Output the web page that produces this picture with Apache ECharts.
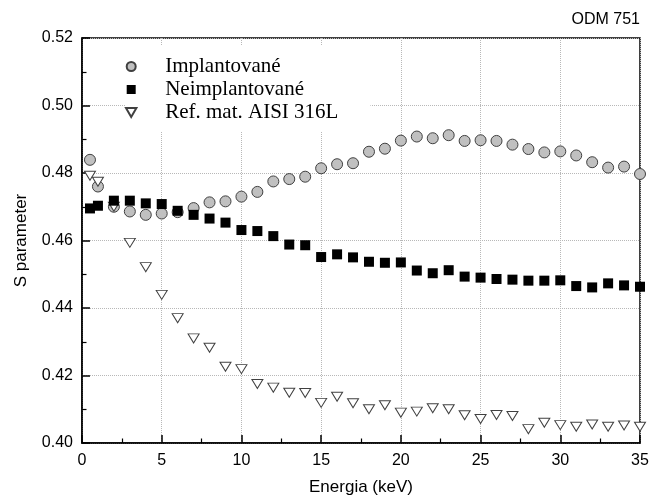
<!DOCTYPE html>
<html>
<head>
<meta charset="utf-8">
<script src="https://cdn.jsdelivr.net/npm/echarts@6/dist/echarts.min.js"></script>
<style>html,body{margin:0;padding:0;background:#fff}#c{width:652px;height:502px}</style>
</head>
<body>
<div id="c"></div>
<script>
var energy = [0.5,1,2,3,4,5,6,7,8,9,10,11,12,13,14,15,16,17,18,19,20,21,22,23,24,25,26,27,28,29,30,31,32,33,34,35];
var implantovane = [0.4839,0.4760,0.4700,0.4686,0.4676,0.4680,0.4684,0.4696,0.4713,0.4716,0.4730,0.4744,0.4775,0.4782,0.4789,0.4814,0.4826,0.4829,0.4863,0.4872,0.4896,0.4908,0.4903,0.4912,0.4895,0.4897,0.4895,0.4884,0.4871,0.4861,0.4864,0.4852,0.4832,0.4816,0.4819,0.4797];
var neimplantovane = [0.4695,0.4703,0.4718,0.4718,0.4710,0.4708,0.4688,0.4676,0.4665,0.4653,0.4631,0.4628,0.4613,0.4588,0.4586,0.4551,0.4559,0.4550,0.4537,0.4534,0.4535,0.4511,0.4503,0.4512,0.4493,0.4490,0.4486,0.4484,0.4481,0.4481,0.4482,0.4465,0.4461,0.4473,0.4467,0.4463];
var refAisi = [0.4792,0.4774,0.4700,0.4593,0.4521,0.4439,0.4370,0.4310,0.4282,0.4226,0.4219,0.4175,0.4164,0.4149,0.4148,0.4119,0.4137,0.4118,0.4100,0.4112,0.4090,0.4093,0.4103,0.4100,0.4082,0.4071,0.4083,0.4080,0.4041,0.4060,0.4053,0.4048,0.4055,0.4048,0.4052,0.4048];
var seriesNames = ['Implantované','Neimplantované','Ref. mat. AISI 316L'];
var titleText = 'ODM 751';
var xName = 'Energia (keV)';
var yName = 'S parameter';

function pairs(xs, ys){ return xs.map(function(x,i){ return [x, ys[i]]; }); }
var triDown = 'path://M0,0 L10,0 L5,8.66 Z';
var square = 'path://M0,0 L10,0 L10,10 L0,10 Z';

var chart = echarts.init(document.getElementById('c'), null, {renderer:'canvas'});
var axisFont = {fontFamily:'Liberation Sans, Arial, sans-serif', fontSize:16, color:'#000'};
chart.setOption({
  animation:false,
  backgroundColor:'#fff',
  title:{text:titleText, right:12, top:12, padding:0,
    textStyle:{fontFamily:'Liberation Sans, Arial, sans-serif', fontSize:16, fontWeight:'normal', color:'#000'}},
  grid:{left:82, right:12, top:38, bottom:59, show:true, borderColor:'#000', borderWidth:1.5, backgroundColor:'transparent'},
  legend:{
    orient:'vertical', left:125, top:46, padding:[10,32,8,0],
    backgroundColor:'#fff',
    itemWidth:30, itemHeight:9, itemGap:2,
    textStyle:{fontFamily:'Liberation Serif, Times New Roman, serif', fontSize:21, color:'#000', lineHeight:21, padding:[0,0,0,14]},
    data:[
      {name:seriesNames[0], icon:'circle'},
      {name:seriesNames[1], icon:square},
      {name:seriesNames[2], icon:triDown}
    ]
  },
  xAxis:{
    type:'value', min:0, max:35, interval:5,
    name:xName, nameLocation:'middle', nameGap:36,
    nameTextStyle:{fontFamily:'Liberation Sans, Arial, sans-serif', fontSize:17, color:'#000'},
    axisLine:{show:true, onZero:false, lineStyle:{color:'#000', width:1.5}},
    axisTick:{show:true, inside:true, length:8, lineStyle:{color:'#000', width:1.5}},
    minorTick:{show:true, splitNumber:2, length:4.5, lineStyle:{color:'#000', width:1.2}},
    axisLabel:Object.assign({margin:10}, axisFont),
    splitLine:{show:true, lineStyle:{color:'#b8b8b8', type:'dotted', width:1}}
  },
  yAxis:{
    type:'value', min:0.40, max:0.52, interval:0.02,
    name:yName, nameLocation:'middle', nameGap:52,
    nameTextStyle:{fontFamily:'Liberation Sans, Arial, sans-serif', fontSize:17, color:'#000'},
    axisLine:{show:true, onZero:false, lineStyle:{color:'#000', width:1.5}},
    axisTick:{show:true, inside:true, length:8, lineStyle:{color:'#000', width:1.5}},
    minorTick:{show:true, splitNumber:2, length:4.5, lineStyle:{color:'#000', width:1.2}},
    axisLabel:Object.assign({margin:9, formatter:function(v){return v.toFixed(2);}}, axisFont),
    splitLine:{show:true, lineStyle:{color:'#b8b8b8', type:'dotted', width:1}}
  },
  series:[
    {name:seriesNames[0], type:'scatter', data:pairs(energy, implantovane), symbol:'circle', symbolSize:11, clip:true,
      itemStyle:{color:'#c0c0c0', borderColor:'#404040', borderWidth:1, opacity:1}},
    {name:seriesNames[2], type:'scatter', data:pairs(energy, refAisi), symbol:triDown, symbolSize:[11,9], clip:true,
      itemStyle:{color:'#fff', borderColor:'#404040', borderWidth:1, opacity:1}},
    {name:seriesNames[1], type:'scatter', data:pairs(energy, neimplantovane), symbol:'rect', symbolSize:10, clip:true,
      itemStyle:{color:'#000', borderColor:'#000', borderWidth:0, opacity:1}}
  ]
});
</script>
</body>
</html>
